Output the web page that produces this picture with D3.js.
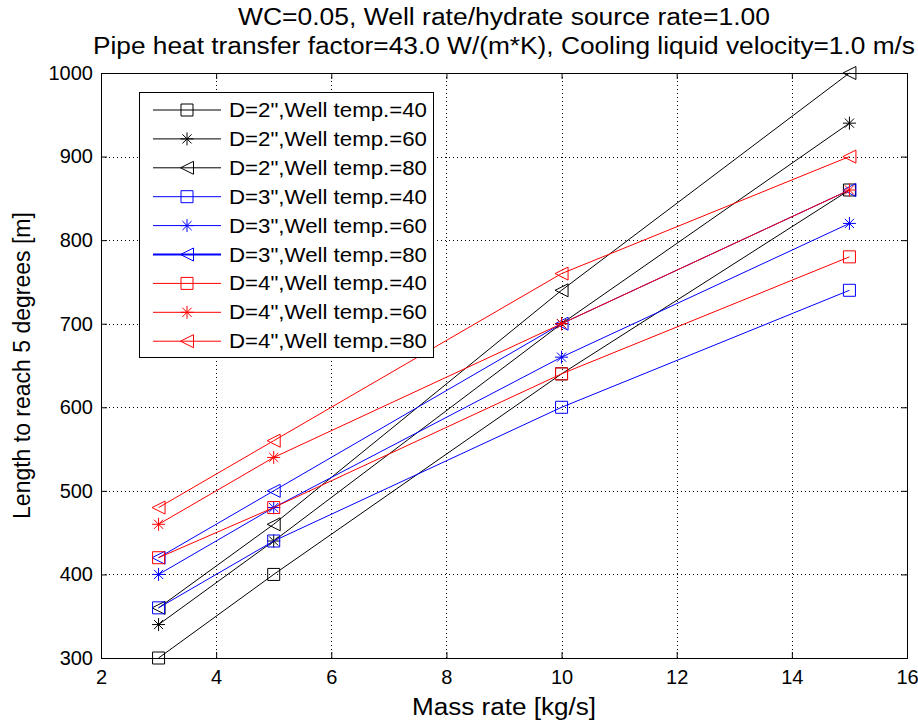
<!DOCTYPE html>
<html>
<head>
<meta charset="utf-8">
<script src="https://cdn.jsdelivr.net/npm/d3@7"></script>
<style>
  body { margin: 0; background: #fff; }
  text { font-family: "Liberation Sans", Arial, Helvetica, sans-serif; fill: #000; }
</style>
</head>
<body>
<svg id="chart" width="918" height="724"></svg>
<script>
// Mass rates at which the cooling length was evaluated [kg/s]
const massRate = [3, 5, 10, 15];

// Length to reach 5 degrees [m] per pipe diameter / well temperature
const d2w40 = [300, 400, 640, 860];
const d2w60 = [340, 440, 700, 940];
const d2w80 = [360, 460, 740, 1000];
const d3w40 = [360, 440, 600, 740];
const d3w60 = [400, 480, 660, 820];
const d3w80 = [420, 500, 700, 860];
const d4w40 = [420, 480, 640, 780];
const d4w60 = [460, 540, 700, 860];
const d4w80 = [480, 560, 760, 900];

const seriesLabels = [
  'D=2",Well temp.=40', 'D=2",Well temp.=60', 'D=2",Well temp.=80',
  'D=3",Well temp.=40', 'D=3",Well temp.=60', 'D=3",Well temp.=80',
  'D=4",Well temp.=40', 'D=4",Well temp.=60', 'D=4",Well temp.=80'
];
const seriesValues = [d2w40, d2w60, d2w80, d3w40, d3w60, d3w80, d4w40, d4w60, d4w80];

const xTicks = [2, 4, 6, 8, 10, 12, 14, 16];
const yTicks = [300, 400, 500, 600, 700, 800, 900, 1000];

const titleLines = [
  "WC=0.05, Well rate/hydrate source rate=1.00",
  "Pipe heat transfer factor=43.0 W/(m*K), Cooling liquid velocity=1.0 m/s"
];
const xLabel = "Mass rate [kg/s]";
const yLabel = "Length to reach 5 degrees [m]";

// ---- styling ----
const colorFor = ["#000000", "#000000", "#000000", "#0000ff", "#0000ff", "#0000ff", "#ff0000", "#ff0000", "#ff0000"];
const markerFor = ["square", "star", "triLeft", "square", "star", "triLeft", "square", "star", "triLeft"];
const legendWidthFor = [1, 1, 1, 1, 1, 2, 1, 1, 1];

// Custom marker shapes (outline only)
const symbolSquare = { draw(ctx) { const r = 6; ctx.moveTo(-r, -r); ctx.lineTo(r, -r); ctx.lineTo(r, r); ctx.lineTo(-r, r); ctx.closePath(); } };
const symbolStar = { draw(ctx) {
  const r = 6.5, d = 4.6;
  ctx.moveTo(-r, 0); ctx.lineTo(r, 0);
  ctx.moveTo(0, -r); ctx.lineTo(0, r);
  ctx.moveTo(-d, -d); ctx.lineTo(d, d);
  ctx.moveTo(-d, d); ctx.lineTo(d, -d);
} };
const symbolTriLeft = { draw(ctx) { const r = 6.5; ctx.moveTo(-r, 0); ctx.lineTo(r, -r); ctx.lineTo(r, r); ctx.closePath(); } };
const symbols = { square: symbolSquare, star: symbolStar, triLeft: symbolTriLeft };

const svg = d3.select("#chart");
const W = 918, H = 724;
const plot = { left: 101, right: 907, top: 73, bottom: 658 };

const x = d3.scaleLinear().domain([2, 16]).range([plot.left, plot.right]);
const y = d3.scaleLinear().domain([300, 1000]).range([plot.bottom, plot.top]);

svg.append("rect").attr("width", W).attr("height", H).attr("fill", "#fff");

// Grid (dotted)
const grid = svg.append("g").attr("stroke", "#000").attr("stroke-width", 1)
  .attr("stroke-dasharray", "1,3").attr("shape-rendering", "crispEdges");
grid.selectAll("line.gx").data(xTicks.slice(1, -1)).join("line")
  .attr("x1", d => Math.round(x(d)) + 0.5).attr("x2", d => Math.round(x(d)) + 0.5)
  .attr("y1", plot.top).attr("y2", plot.bottom);
grid.selectAll("line.gy").data(yTicks.slice(1, -1)).join("line")
  .attr("y1", d => Math.round(y(d)) + 0.5).attr("y2", d => Math.round(y(d)) + 0.5)
  .attr("x1", plot.left).attr("x2", plot.right);

// Axes with inward ticks on all four sides
const tickLen = 6;
function styleAxis(g) {
  g.select(".domain").remove();
  g.selectAll(".tick line").attr("stroke", "#000");
  g.selectAll(".tick text").attr("font-size", 20).attr("fill", "#000")
    .attr("font-family", '"Liberation Sans", Arial, sans-serif');
}
svg.append("g").attr("transform", `translate(0,${plot.bottom})`)
  .call(d3.axisBottom(x).tickValues(xTicks).tickFormat(d3.format("d")).tickSizeInner(-tickLen).tickSizeOuter(0).tickPadding(12))
  .call(styleAxis);
svg.append("g").attr("transform", `translate(0,${plot.top})`)
  .call(d3.axisTop(x).tickValues(xTicks).tickFormat("").tickSizeInner(-tickLen).tickSizeOuter(0))
  .call(styleAxis);
svg.append("g").attr("transform", `translate(${plot.left},0)`)
  .call(d3.axisLeft(y).tickValues(yTicks).tickFormat(d3.format("d")).tickSizeInner(-tickLen).tickSizeOuter(0).tickPadding(8))
  .call(styleAxis);
svg.append("g").attr("transform", `translate(${plot.right},0)`)
  .call(d3.axisRight(y).tickValues(yTicks).tickFormat("").tickSizeInner(-tickLen).tickSizeOuter(0))
  .call(styleAxis);

// Axes box
svg.append("rect")
  .attr("x", plot.left + 0.5).attr("y", plot.top + 0.5)
  .attr("width", plot.right - plot.left).attr("height", plot.bottom - plot.top)
  .attr("fill", "none").attr("stroke", "#000").attr("stroke-width", 1);

// Series lines and markers
const line = d3.line().x((d, i) => x(massRate[i])).y(d => y(d));
const series = svg.append("g").selectAll("g").data(seriesValues).join("g");
series.append("path")
  .attr("d", d => line(d))
  .attr("fill", "none")
  .attr("stroke", (d, i) => colorFor[i])
  .attr("stroke-width", 1);
series.each(function (vals, i) {
  d3.select(this).selectAll("path.mk").data(vals).join("path").attr("class", "mk")
    .attr("transform", (d, j) => `translate(${x(massRate[j])},${y(d)})`)
    .attr("d", d3.symbol().type(symbols[markerFor[i]]))
    .attr("fill", "none").attr("stroke", colorFor[i]).attr("stroke-width", 1);
});

// Legend
const legend = { left: 139.5, top: 92.5, width: 294, height: 265, row0: 110, rowStep: 28.9 };
svg.append("rect")
  .attr("x", legend.left).attr("y", legend.top)
  .attr("width", legend.width).attr("height", legend.height)
  .attr("fill", "#fff").attr("stroke", "#000").attr("stroke-width", 1);
const items = svg.append("g").selectAll("g").data(seriesLabels).join("g")
  .attr("transform", (d, i) => `translate(0,${legend.row0 + i * legend.rowStep})`);
items.append("line")
  .attr("x1", 153).attr("x2", 221).attr("y1", 0).attr("y2", 0)
  .attr("stroke", (d, i) => colorFor[i]).attr("stroke-width", (d, i) => legendWidthFor[i]);
items.append("path")
  .attr("transform", "translate(187,0)")
  .attr("d", (d, i) => d3.symbol().type(symbols[markerFor[i]])())
  .attr("fill", "none").attr("stroke", (d, i) => colorFor[i]);
items.append("text")
  .attr("x", 229).attr("y", 7)
  .attr("font-size", 19.5)
  .attr("textLength", 198).attr("lengthAdjust", "spacingAndGlyphs")
  .text(d => d);

// Title
const titleWidths = [532, 822];
svg.append("g").selectAll("text").data(titleLines).join("text")
  .attr("x", (plot.left + plot.right) / 2)
  .attr("y", (d, i) => 25 + i * 29)
  .attr("text-anchor", "middle")
  .attr("font-size", 23)
  .attr("textLength", (d, i) => titleWidths[i]).attr("lengthAdjust", "spacingAndGlyphs")
  .text(d => d);

// Axis labels
svg.append("text")
  .attr("x", (plot.left + plot.right) / 2).attr("y", 715)
  .attr("text-anchor", "middle").attr("font-size", 23)
  .attr("textLength", 184).attr("lengthAdjust", "spacingAndGlyphs")
  .text(xLabel);
svg.append("text")
  .attr("transform", `translate(30,${(plot.top + plot.bottom) / 2}) rotate(-90)`)
  .attr("text-anchor", "middle").attr("font-size", 23)
  .text(yLabel);
</script>
</body>
</html>
